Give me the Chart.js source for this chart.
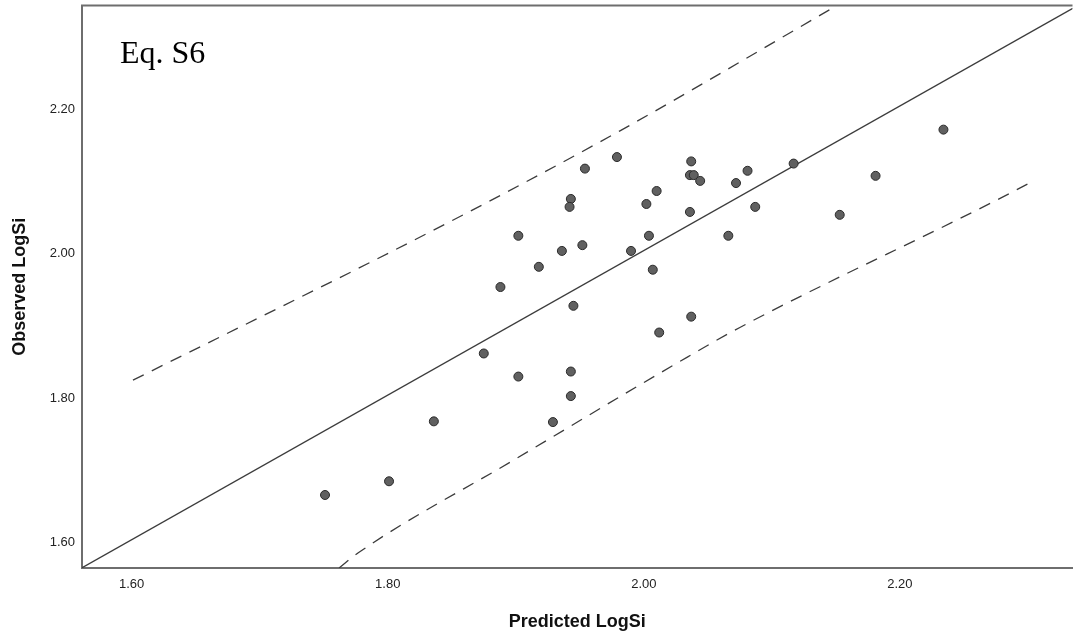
<!DOCTYPE html>
<html>
<head>
<meta charset="utf-8">
<script src="https://cdn.jsdelivr.net/npm/chart.js@4.4.1/dist/chart.umd.min.js"></script>
<style>
  html, body { margin: 0; padding: 0; background: #ffffff; }
  #wrap { width: 1078px; height: 640px; position: relative; }
</style>
</head>
<body>
<div id="wrap"><canvas id="c" width="1078" height="640"></canvas></div>
<script>
const predicted = [1.751, 1.801, 1.836, 1.875, 1.888, 1.902, 1.902, 1.918, 1.929, 1.936,
  1.943, 1.942, 1.943, 1.943, 1.945, 1.952, 1.954, 1.979, 1.990, 2.002,
  2.004, 2.007, 2.010, 2.012, 2.037, 2.036, 2.039, 2.044, 2.036, 2.037,
  2.066, 2.072, 2.081, 2.087, 2.117, 2.153, 2.181, 2.234];
const observed = [1.666, 1.685, 1.768, 1.862, 1.954, 2.025, 1.830, 1.982, 1.767, 2.004,
  2.076, 2.065, 1.837, 1.803, 1.928, 2.012, 2.118, 2.134, 2.004, 2.069,
  2.025, 1.978, 2.087, 1.891, 2.128, 2.109, 2.109, 2.101, 2.058, 1.913,
  2.025, 2.098, 2.115, 2.065, 2.125, 2.054, 2.108, 2.172];

// Fit line (solid)
const fitX = [1.561, 2.335];
const fitY = [1.565, 2.340];

// Prediction interval (dashed)
const upperX = [1.601, 1.847, 1.981, 2.150];
const upperY = [1.825, 2.043, 2.170, 2.343];
const lowerX = [1.762, 1.777, 1.899, 2.034, 2.075, 2.274, 2.300];
const lowerY = [1.565, 1.586, 1.715, 1.857, 1.898, 2.073, 2.097];

const xTicks = ['1.60', '1.80', '2.00', '2.20'];
const yTicks = ['1.60', '1.80', '2.00', '2.20'];

const toPts = (xs, ys) => xs.map((x, i) => ({ x: x, y: ys[i] }));

const frame = {
  id: 'frame',
  afterDraw(chart) {
    const { ctx, chartArea } = chart;
    ctx.save();
    ctx.strokeStyle = '#6e6e6e';
    ctx.lineWidth = 2;
    ctx.beginPath();
    ctx.moveTo(chartArea.left - 1, chartArea.top);
    ctx.lineTo(chartArea.right, chartArea.top);
    ctx.stroke();
    ctx.fillStyle = '#000000';
    ctx.font = '32px "Liberation Serif", "Times New Roman", serif';
    ctx.textBaseline = 'alphabetic';
    ctx.textAlign = 'left';
    ctx.fillText('Eq. S6', 120, 63);
    ctx.restore();
  }
};

new Chart(document.getElementById('c'), {
  type: 'scatter',
  data: {
    datasets: [
      {
        label: 'Observed',
        data: toPts(predicted, observed),
        pointRadius: 4.5,
        pointHoverRadius: 4.5,
        backgroundColor: '#606060',
        borderColor: '#2a2a2a',
        borderWidth: 1
      },
      {
        label: 'Fit',
        type: 'line',
        data: toPts(fitX, fitY),
        borderColor: '#3c3c3c',
        borderWidth: 1.3,
        pointRadius: 0,
        fill: false
      },
      {
        label: 'Upper',
        type: 'line',
        data: toPts(upperX, upperY),
        borderColor: '#3c3c3c',
        borderWidth: 1.3,
        borderDash: [12, 9],
        pointRadius: 0,
        cubicInterpolationMode: 'monotone',
        fill: false
      },
      {
        label: 'Lower',
        type: 'line',
        data: toPts(lowerX, lowerY),
        borderColor: '#3c3c3c',
        borderWidth: 1.3,
        borderDash: [12, 9],
        pointRadius: 0,
        cubicInterpolationMode: 'monotone',
        fill: false
      }
    ]
  },
  options: {
    responsive: false,
    animation: false,
    devicePixelRatio: 1,
    layout: { padding: { top: 4, right: 0, left: 0, bottom: 0 } },
    plugins: { legend: { display: false }, tooltip: { enabled: false } },
    scales: {
      x: {
        type: 'linear',
        min: 1.5612,
        max: 2.3348,
        afterFit: (s) => { s.height = 72; s.paddingLeft = 0; s.paddingRight = 0; },
        afterBuildTicks: (s) => { s.ticks = xTicks.map(v => ({ value: parseFloat(v) })); },
        grid: { display: false, drawTicks: false },
        border: { display: true, color: '#6e6e6e', width: 2 },
        ticks: {
          padding: 9,
          color: '#222222',
          font: { family: 'Liberation Sans, Arial, sans-serif', size: 13 },
          callback: (v) => Number(v).toFixed(2)
        },
        title: {
          display: true,
          text: 'Predicted LogSi',
          color: '#111111',
          font: { family: 'Liberation Sans, Arial, sans-serif', size: 18, weight: 'bold' },
          padding: { top: 0, bottom: 7 }
        }
      },
      y: {
        type: 'linear',
        min: 1.5649,
        max: 2.3439,
        afterFit: (s) => { s.width = 82; s.paddingTop = 0; s.paddingBottom = 0; },
        afterBuildTicks: (s) => { s.ticks = yTicks.map(v => ({ value: parseFloat(v) })); },
        grid: { display: false, drawTicks: false },
        border: { display: true, color: '#6e6e6e', width: 2 },
        ticks: {
          padding: 7,
          color: '#222222',
          font: { family: 'Liberation Sans, Arial, sans-serif', size: 13 },
          callback: (v) => Number(v).toFixed(2)
        },
        title: {
          display: true,
          text: 'Observed LogSi',
          color: '#111111',
          font: { family: 'Liberation Sans, Arial, sans-serif', size: 18, weight: 'bold' },
          padding: { top: 9, bottom: 0 }
        }
      }
    }
  },
  plugins: [frame]
});
</script>
</body>
</html>
